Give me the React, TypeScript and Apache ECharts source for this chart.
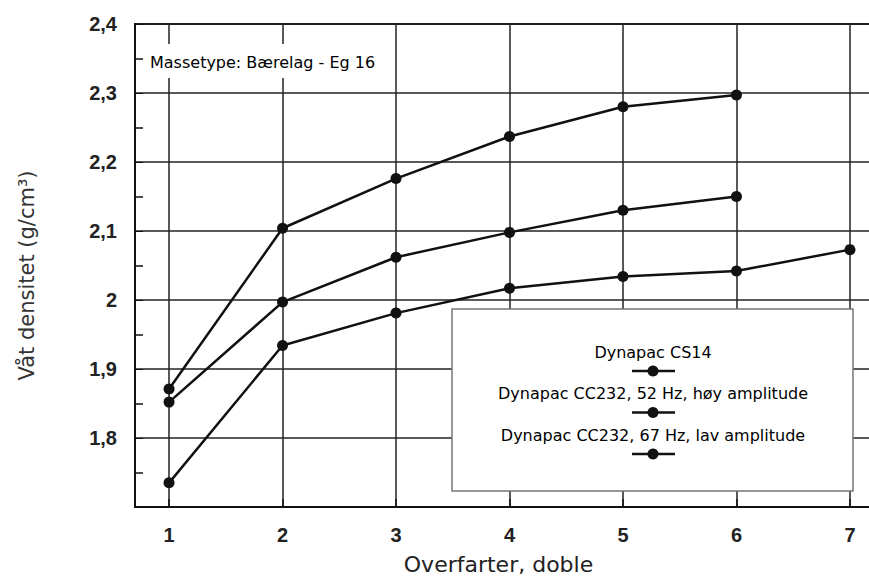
import React, { useEffect, useRef } from "react";
import * as echarts from "echarts";

const passes = [1, 2, 3, 4, 5, 6, 7];
const seriesNames = [
  "Dynapac CS14",
  "Dynapac CC232, 52 Hz, høy amplitude",
  "Dynapac CC232, 67 Hz, lav amplitude",
];
const cs14 = [1.871, 2.104, 2.176, 2.237, 2.28, 2.297];
const cc232High = [1.852, 1.997, 2.062, 2.098, 2.13, 2.15];
const cc232Low = [1.735, 1.934, 1.981, 2.017, 2.034, 2.042, 2.073];
const seriesValues = [cs14, cc232High, cc232Low];
const yTicks = [1.8, 1.9, 2.0, 2.1, 2.2, 2.3, 2.4];
const annotation = "Massetype: Bærelag - Eg 16";
const xTitle = "Overfarter, doble";
const yTitle = "Våt densitet (g/cm³)";

const INK = "#111";

export default function App() {
  const ref = useRef<HTMLDivElement>(null);
  useEffect(() => {
    if (!ref.current) return;
    const chart = echarts.init(ref.current, undefined, { renderer: "svg" });
    const legendGraphics: any[] = [
      {
        type: "rect",
        shape: { x: 452, y: 309, width: 401, height: 182 },
        style: { fill: "#fff", stroke: "#777", lineWidth: 1.5 },
        z: 100,
      },
    ];
    seriesNames.forEach((name, i) => {
      const ty = 352 + 41.5 * i;
      const my = 371 + 41.5 * i;
      legendGraphics.push(
        {
          type: "text",
          x: 653,
          y: ty,
          style: {
            text: name,
            fill: "#000",
            font: "16px 'DejaVu Sans'",
            align: "center",
            verticalAlign: "middle",
          },
          z: 101,
        },
        {
          type: "line",
          shape: { x1: 632, y1: my, x2: 675, y2: my },
          style: { stroke: INK, lineWidth: 2.5 },
          z: 101,
        },
        {
          type: "circle",
          shape: { cx: 653, cy: my, r: 5.5 },
          style: { fill: INK },
          z: 102,
        }
      );
    });

    const option: any = {
      animation: false,
      backgroundColor: "#fff",
      grid: {
        left: 135,
        top: 24,
        width: 749,
        height: 483,
        show: true,
        borderColor: INK,
        borderWidth: 2,
        containLabel: false,
        outerBoundsMode: "none",
      },
      xAxis: {
        type: "value",
        min: 0.7,
        max: 7.3,
        name: xTitle,
        nameLocation: "middle",
        nameGap: 46,
        nameTextStyle: {
          fontFamily: "'DejaVu Sans', sans-serif",
          fontSize: 22,
          color: "#222",
          padding: [0, 22, 0, 0],
        },
        axisLine: { show: true, lineStyle: { color: INK, width: 2 } },
        axisTick: {
          show: true,
          inside: true,
          length: 8,
          customValues: passes,
          lineStyle: { color: INK, width: 1.5 },
        },
        axisLabel: {
          customValues: passes,
          margin: 18,
          fontFamily: "'Liberation Sans', Arial, sans-serif",
          fontSize: 20,
          fontWeight: "bold",
          color: "#222",
        },
        splitLine: {
          show: true,
          customValues: passes,
          lineStyle: { color: "#222", width: 1.5 },
        },
      },
      yAxis: {
        type: "value",
        min: 1.7,
        max: 2.4,
        interval: 0.1,
        name: yTitle,
        nameLocation: "middle",
        nameGap: 98,
        nameRotate: 90,
        nameTextStyle: {
          fontFamily: "'DejaVu Sans', sans-serif",
          fontSize: 21,
          color: "#333",
          padding: [0, 20, 0, 0],
        },
        axisLine: { show: true, lineStyle: { color: INK, width: 2 } },
        axisTick: { show: true, inside: true, length: 8, lineStyle: { color: INK } },
        minorTick: { show: true, splitNumber: 2, length: 8, lineStyle: { color: INK, width: 1.5 } },
        axisLabel: {
          margin: 18,
          fontFamily: "'Liberation Sans', Arial, sans-serif",
          fontSize: 20,
          fontWeight: "bold",
          color: "#222",
          formatter: (v: number) => {
            const r = Number(v.toFixed(2));
            if (!yTicks.some((t) => Math.abs(t - r) < 1e-6)) return "";
            return String(r).replace(".", ",");
          },
        },
        splitLine: { show: true, lineStyle: { color: "#222", width: 1.5 } },
      },
      series: seriesValues.map((vals, i) => ({
        name: seriesNames[i],
        type: "line",
        data: vals.map((v, j) => [passes[j], v]),
        symbol: "circle",
        symbolSize: 11,
        lineStyle: { color: INK, width: 2.5 },
        itemStyle: { color: INK },
        z: 5,
      })),
      graphic: [
        {
          type: "rect",
          shape: { x: 145, y: 44, width: 236, height: 34 },
          style: { fill: "#fff" },
          z: 50,
        },
        {
          type: "text",
          x: 150,
          y: 62,
          style: {
            text: annotation,
            fill: "#000",
            font: "16px 'DejaVu Sans'",
            align: "left",
            verticalAlign: "middle",
          },
          z: 51,
        },
        ...legendGraphics,
      ],
    };
    chart.setOption(option);
    return () => chart.dispose();
  }, []);
  return (
    <div
      ref={ref}
      style={{ position: "fixed", left: 0, top: 0, width: 869, height: 580, background: "#fff" }}
    />
  );
}
